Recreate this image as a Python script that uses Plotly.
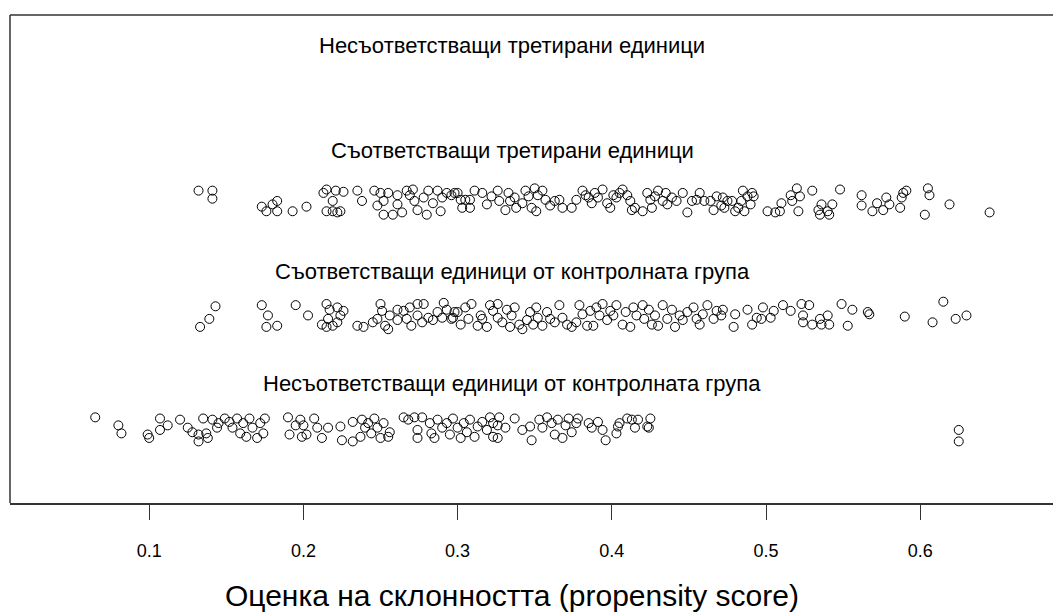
import plotly.graph_objects as go

# Group labels (top to bottom)
group_labels = [
    "Несъответстващи третирани единици",
    "Съответстващи третирани единици",
    "Съответстващи единици от контролната група",
    "Несъответстващи единици от контролната група",
]
group_rows = [4, 3, 2, 1]
label_y = [4.36, 3.445, 2.38, 1.41]
label_x = [0.3353, 0.3353, 0.3353, 0.3353]

tick_vals = [0.1, 0.2, 0.3, 0.4, 0.5, 0.6]
tick_text = ["0.1", "0.2", "0.3", "0.4", "0.5", "0.6"]
x_title = "Оценка на склонността (propensity score)"

# Unmatched treated units: none
unmatched_treated_x = []
unmatched_treated_j = []

# Matched treated units: propensity score and vertical jitter
matched_treated_x = [
    0.132, 0.141, 0.141, 0.173, 0.176, 0.180, 0.183, 0.183, 0.193, 0.202,
    0.213, 0.215, 0.221, 0.226, 0.219, 0.215, 0.219, 0.222, 0.224, 0.235,
    0.238, 0.246, 0.250, 0.252, 0.248, 0.252, 0.255, 0.258, 0.261, 0.261,
    0.264, 0.267, 0.269, 0.271, 0.272, 0.274, 0.278, 0.280, 0.281, 0.284,
    0.287, 0.289, 0.290, 0.293, 0.296, 0.300,
    0.298, 0.302, 0.305, 0.308, 0.303, 0.308, 0.311, 0.316, 0.319, 0.322,
    0.326, 0.327, 0.331, 0.333, 0.334, 0.337, 0.338, 0.342, 0.344, 0.346,
    0.348, 0.350, 0.351, 0.352, 0.355, 0.357, 0.360, 0.363, 0.366, 0.368,
    0.374, 0.377, 0.381, 0.383, 0.385, 0.387, 0.389, 0.391, 0.394, 0.397,
    0.399, 0.401, 0.403, 0.405, 0.407, 0.410, 0.412, 0.413, 0.415, 0.420,
    0.423, 0.425, 0.426, 0.428, 0.430, 0.433, 0.435, 0.436, 0.439, 0.442,
    0.446, 0.449, 0.452, 0.455, 0.457, 0.460, 0.464, 0.466, 0.468, 0.471,
    0.475,
    0.472, 0.473, 0.478, 0.480, 0.482, 0.484, 0.485, 0.486, 0.488, 0.490,
    0.491, 0.492, 0.501, 0.506, 0.509, 0.510, 0.516, 0.517, 0.520, 0.521,
    0.522, 0.530, 0.534, 0.536, 0.535, 0.540, 0.541, 0.543, 0.548, 0.562,
    0.562, 0.569, 0.572, 0.576, 0.578, 0.580, 0.587, 0.588, 0.589, 0.591,
    0.603, 0.605, 0.606, 0.619, 0.645,
]
matched_treated_j = [
    0.09, 0.09, 0.02, -0.05, -0.09, -0.03, 0.00, -0.09, -0.09, -0.05,
    0.07, 0.10, 0.09, 0.08, 0.00, -0.09, -0.09, -0.10, -0.09, 0.09,
    0.00, 0.09, 0.07, 0.00, -0.04, -0.12, 0.07, -0.12, 0.05, -0.03,
    -0.10, 0.09, 0.05, 0.10, 0.00, -0.08, 0.03, -0.12, 0.09, -0.02,
    0.09, -0.09, 0.03, 0.07, 0.05, 0.07,
    0.07, 0.01, 0.01, 0.01, -0.06, -0.06, 0.09, 0.07, -0.03, 0.04,
    0.09, 0.00, -0.08, 0.07, 0.00, 0.03, -0.06, -0.02, 0.09, 0.04,
    -0.06, 0.11, -0.09, 0.05, 0.09, 0.01, -0.04, 0.00, 0.01, -0.06,
    -0.06, 0.01, 0.09, 0.05, 0.03, -0.02, 0.07, 0.03, 0.10, -0.02,
    -0.06, 0.05, 0.03, 0.07, 0.10, 0.05, 0.00, -0.08, -0.06, -0.09,
    0.07, 0.01, -0.06, 0.04, 0.09, 0.00, 0.07, -0.03, 0.03, 0.00,
    0.07, -0.10, 0.00, 0.01, 0.07, 0.00, 0.00, -0.08, 0.04, -0.04,
    0.00,
    0.03, -0.06, 0.00, -0.09, -0.06, 0.00, 0.09, -0.09, 0.04, -0.03,
    0.07, 0.04, -0.09, -0.10, -0.09, -0.02, 0.05, 0.00, 0.11, -0.09,
    0.04, 0.09, -0.08, -0.03, -0.12, -0.09, -0.12, -0.03, 0.10, 0.05,
    -0.04, -0.09, -0.02, -0.08, 0.03, -0.03, -0.06, 0.03, 0.07, 0.09,
    -0.12, 0.11, 0.05, -0.03, -0.10,
]

# Matched control units
matched_control_x = [
    0.133, 0.139, 0.143, 0.173, 0.177, 0.176, 0.183, 0.195, 0.203, 0.212,
    0.215, 0.217, 0.216, 0.222, 0.226, 0.224, 0.222, 0.219, 0.215, 0.235,
    0.239, 0.245, 0.248, 0.250, 0.251, 0.253, 0.255, 0.256, 0.261, 0.261,
    0.265, 0.267, 0.269, 0.270, 0.274, 0.274, 0.277, 0.278, 0.281, 0.284,
    0.287, 0.290, 0.291, 0.293, 0.296, 0.298,
    0.297, 0.300, 0.302, 0.305, 0.307, 0.309, 0.313, 0.315, 0.316, 0.319,
    0.321, 0.323, 0.326, 0.326, 0.329, 0.332, 0.334, 0.335, 0.337, 0.340,
    0.342, 0.345, 0.347, 0.349, 0.351, 0.352, 0.355, 0.358, 0.360, 0.363,
    0.366, 0.368, 0.371, 0.374, 0.377, 0.379, 0.381, 0.384, 0.386, 0.388,
    0.390, 0.392, 0.394, 0.397, 0.399, 0.401, 0.403, 0.407, 0.409, 0.412,
    0.414, 0.416, 0.420, 0.421, 0.424, 0.426, 0.428, 0.430, 0.433, 0.436,
    0.439, 0.441, 0.444, 0.446, 0.449, 0.453, 0.455, 0.457, 0.459, 0.462,
    0.466, 0.468, 0.471,
    0.472, 0.479, 0.480, 0.488, 0.491, 0.494, 0.498, 0.497, 0.503, 0.505,
    0.511, 0.516, 0.523, 0.524, 0.524, 0.528, 0.530, 0.535, 0.536, 0.540,
    0.541, 0.549, 0.553, 0.556, 0.566, 0.567, 0.590, 0.608, 0.615, 0.623,
    0.630,
]
matched_control_j = [
    -0.10, -0.03, 0.08, 0.09, 0.00, -0.10, -0.09, 0.09, 0.00, -0.08,
    0.10, 0.05, -0.03, 0.07, 0.04, 0.00, -0.06, -0.09, -0.10, -0.09,
    -0.10, -0.06, -0.03, 0.10, 0.04, -0.09, -0.12, 0.00, 0.05, -0.04,
    0.04, -0.03, 0.07, -0.09, 0.00, 0.10, -0.06, 0.10, -0.02, -0.04,
    0.03, -0.02, 0.11, 0.05, -0.03, 0.03,
    -0.02, 0.03, -0.08, 0.07, -0.03, 0.10, -0.09, 0.00, -0.03, -0.10,
    0.09, 0.04, -0.02, 0.10, -0.06, 0.05, -0.10, 0.00, 0.07, -0.08,
    -0.12, -0.04, 0.03, -0.08, 0.07, -0.02, -0.09, 0.03, -0.03, -0.06,
    0.09, -0.02, -0.08, -0.10, -0.06, 0.09, 0.01, -0.09, 0.04, -0.09,
    0.07, 0.00, 0.10, -0.04, 0.04, 0.00, 0.09, -0.08, 0.03, -0.10,
    0.07, 0.00, 0.09, -0.03, 0.05, -0.08, 0.00, -0.09, 0.09, -0.03,
    0.05, -0.10, 0.00, -0.04, 0.03, 0.07, -0.03, -0.08, 0.01, 0.09,
    -0.03, 0.04, 0.00,
    0.05, -0.10, 0.01, 0.05, -0.08, -0.02, 0.07, -0.03, -0.02, 0.04,
    0.09, 0.04, 0.10, 0.00, -0.06, 0.09, -0.08, -0.03, -0.08, 0.00,
    -0.08, 0.10, -0.09, 0.05, 0.03, 0.01, -0.01, -0.06, 0.12, -0.03,
    0.00,
]

# Unmatched control units
unmatched_control_x = [
    0.065, 0.080, 0.082, 0.099, 0.100, 0.107, 0.107, 0.112, 0.120, 0.125,
    0.128, 0.132, 0.132, 0.135, 0.137, 0.138, 0.141, 0.144, 0.145, 0.149,
    0.152, 0.154, 0.157, 0.159, 0.161, 0.163, 0.165, 0.167, 0.170, 0.172,
    0.174, 0.175, 0.190, 0.191, 0.195, 0.198, 0.199,
    0.200, 0.202, 0.207, 0.209, 0.212, 0.216, 0.224, 0.225, 0.232, 0.232,
    0.237, 0.238, 0.240, 0.242, 0.244, 0.246, 0.248, 0.250, 0.252, 0.255,
    0.256, 0.265, 0.268, 0.272, 0.274, 0.274, 0.277, 0.282, 0.283, 0.285,
    0.287, 0.290, 0.293, 0.295, 0.297, 0.300, 0.302, 0.304, 0.306, 0.308,
    0.311, 0.313, 0.316, 0.319, 0.321, 0.323, 0.326,
    0.323, 0.326, 0.327, 0.331, 0.337, 0.342, 0.347, 0.348, 0.353, 0.355,
    0.358, 0.361, 0.363, 0.365, 0.368, 0.370, 0.372, 0.374, 0.377, 0.378,
    0.385, 0.387, 0.391, 0.394, 0.396, 0.403, 0.404, 0.405, 0.410, 0.413,
    0.415, 0.417, 0.423, 0.425, 0.424, 0.625, 0.625,
]
unmatched_control_j = [
    0.11, 0.04, -0.03, -0.04, -0.07, 0.10, 0.00, 0.04, 0.09, 0.02,
    -0.02, -0.04, -0.10, 0.10, -0.03, -0.07, 0.09, 0.02, 0.06, 0.10,
    0.07, 0.02, 0.10, -0.03, 0.06, -0.06, 0.10, 0.02, -0.07, 0.06,
    -0.03, 0.10, 0.11, -0.04, 0.04, 0.09, -0.06,
    0.04, -0.04, 0.10, 0.02, -0.07, 0.02, 0.03, -0.09, 0.07, -0.10,
    -0.06, 0.09, 0.02, 0.06, -0.03, 0.10, 0.02, -0.07, 0.06, -0.06,
    -0.02, 0.11, 0.09, 0.11, 0.00, -0.07, 0.11, 0.06, -0.03, -0.07,
    0.09, 0.02, 0.06, -0.04, 0.10, 0.02, -0.07, 0.06, -0.02, 0.09,
    -0.06, 0.03, 0.07, 0.00, 0.11, -0.06, 0.04,
    0.06, -0.07, 0.11, 0.02, 0.10, 0.00, 0.03, -0.09, 0.09, 0.02,
    0.11, 0.06, -0.04, 0.09, -0.07, 0.04, 0.10, -0.02, 0.06, 0.10,
    0.06, 0.02, 0.07, 0.00, -0.09, -0.03, 0.03, 0.06, 0.10, 0.09,
    0.02, 0.09, 0.03, 0.10, 0.02, 0.00, -0.10,
]

groups = [
    (unmatched_treated_x, unmatched_treated_j, group_rows[0]),
    (matched_treated_x, matched_treated_j, group_rows[1]),
    (matched_control_x, matched_control_j, group_rows[2]),
    (unmatched_control_x, unmatched_control_j, group_rows[3]),
]

fig = go.Figure()
for xs, js, row in groups:
    fig.add_trace(go.Scatter(
        x=xs,
        y=[row + j for j in js],
        mode="markers",
        marker=dict(symbol="circle-open", size=9, color="black",
                    line=dict(width=1, color="black")),
        showlegend=False,
        hoverinfo="x",
    ))

for txt, lx, ly in zip(group_labels, label_x, label_y):
    fig.add_annotation(x=lx, y=ly, xref="x", yref="y", text=txt,
                       showarrow=False, xanchor="center", yanchor="middle",
                       font=dict(family="Liberation Sans, Arial", size=22, color="black"))

fig.add_annotation(x=0.4776, y=-0.19, xref="paper", yref="paper", text=x_title,
                   showarrow=False, xanchor="center", yanchor="middle",
                   font=dict(family="Liberation Sans, Arial", size=30, color="black"))

# Frame: left and top edges only (no right edge, as in the reference)
frame = dict(color="#333", width=1.5)
fig.add_shape(type="line", xref="paper", yref="paper", x0=0, x1=0, y0=0, y1=1, line=frame)
fig.add_shape(type="line", xref="paper", yref="paper", x0=0, x1=1, y0=1, y1=1, line=frame)

fig.update_layout(
    width=1053, height=606,
    margin=dict(l=2, r=0, t=7, b=111),
    paper_bgcolor="white", plot_bgcolor="white",
    font=dict(family="Liberation Sans, Arial", color="black"),
)
fig.update_xaxes(
    range=[0.00973, 0.6913],
    tickvals=tick_vals, ticktext=tick_text,
    ticks="outside", ticklen=15, tickwidth=1, tickcolor="#333",
    tickfont=dict(size=18, color="black"),
    ticklabelstandoff=16,
    showline=True, linecolor="#333", linewidth=1.5, mirror=False,
    showgrid=False, zeroline=False,
)
fig.update_yaxes(
    range=[0.362, 4.624],
    showticklabels=False, ticks="",
    showline=False,
    showgrid=False, zeroline=False,
)

fig.write_html("out.html")
